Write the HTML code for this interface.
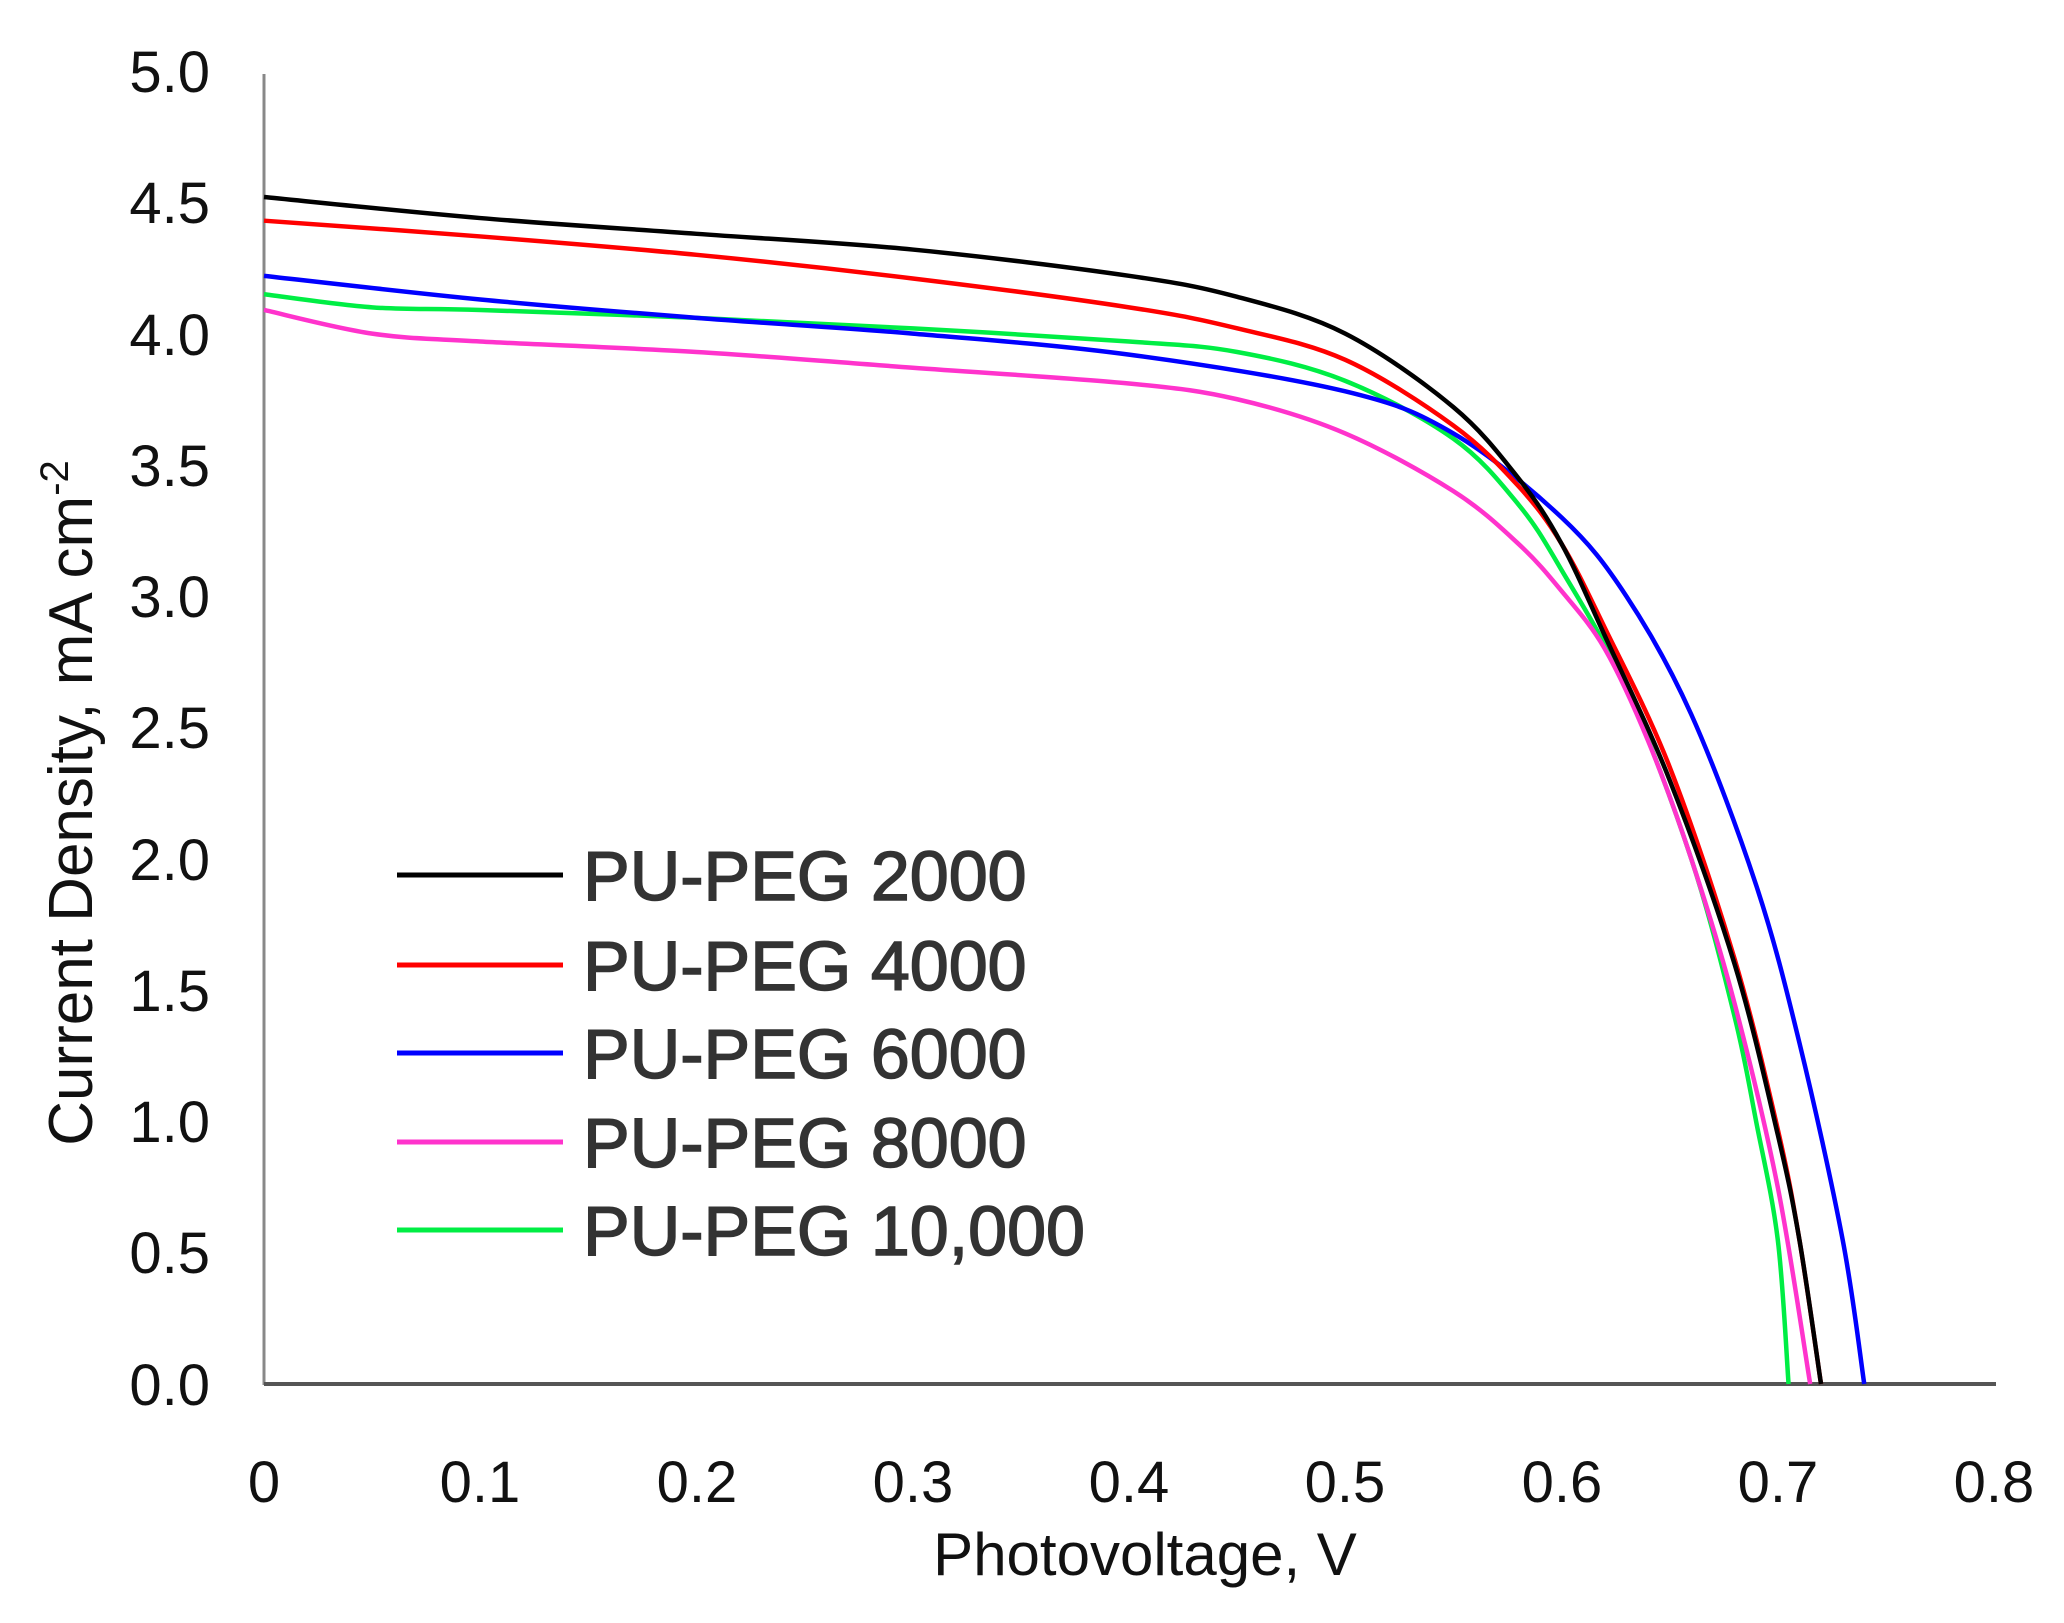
<!DOCTYPE html>
<html><head><meta charset="utf-8"><style>
html,body{margin:0;padding:0;background:#fff;}
svg{display:block;}
text{font-family:"Liberation Sans",sans-serif;}
</style></head><body>
<svg id="s" width="2064" height="1623" viewBox="0 0 2064 1623" xmlns="http://www.w3.org/2000/svg">
<rect width="2064" height="1623" fill="#fff"/>
<line x1="264" y1="74" x2="264" y2="1385" stroke="#888" stroke-width="3"/>
<line x1="264" y1="1384" x2="1996" y2="1384" stroke="#555" stroke-width="4"/>
<g font-size="58" fill="#111" text-anchor="end">
<text x="210" y="92">5.0</text><text x="210" y="223">4.5</text><text x="210" y="355">4.0</text>
<text x="210" y="486">3.5</text><text x="210" y="617">3.0</text><text x="210" y="748">2.5</text>
<text x="210" y="880">2.0</text><text x="210" y="1011">1.5</text><text x="210" y="1142">1.0</text>
<text x="210" y="1273">0.5</text><text x="210" y="1405">0.0</text>
</g>
<g font-size="58" fill="#111" text-anchor="middle">
<text x="264" y="1502">0</text><text x="480" y="1502">0.1</text><text x="697" y="1502">0.2</text>
<text x="913" y="1502">0.3</text><text x="1129" y="1502">0.4</text><text x="1345" y="1502">0.5</text>
<text x="1562" y="1502">0.6</text><text x="1778" y="1502">0.7</text><text x="1994" y="1502">0.8</text>
</g>
<text x="1145" y="1575" font-size="60" text-anchor="middle" fill="#111">Photovoltage, V</text>
<text transform="translate(92,803) rotate(-90)" font-size="62" text-anchor="middle" fill="#111">Current Density, mA cm<tspan dy="-24" font-size="40">-2</tspan></text>
<g id="curves" fill="none" stroke-width="4.5" stroke-linejoin="round"></g>
<g stroke-width="5">
<line x1="397" y1="875" x2="563" y2="875" stroke="#000"/>
<line x1="397" y1="965" x2="563" y2="965" stroke="#f00"/>
<line x1="397" y1="1053" x2="563" y2="1053" stroke="#00f"/>
<line x1="397" y1="1142" x2="563" y2="1142" stroke="#f3c"/>
<line x1="397" y1="1230" x2="563" y2="1230" stroke="#0e4"/>
</g>
<g font-size="70" fill="#333" stroke="#333" stroke-width="1.5">
<text x="583" y="900">PU-PEG 2000</text>
<text x="583" y="990">PU-PEG 4000</text>
<text x="583" y="1078">PU-PEG 6000</text>
<text x="583" y="1167">PU-PEG 8000</text>
<text x="583" y="1255">PU-PEG 10,000</text>
</g>
</svg>
<script>
var X=v=>264+v*2162.5, Y=j=>1384-j*262.6;
var data=[
["#0e4",[[0,4.15],[0.05,4.1],[0.1,4.09],[0.2,4.06],[0.3,4.02],[0.4,3.97],[0.45,3.93],[0.5,3.82],[0.55,3.6],[0.58,3.35],[0.6,3.1],[0.63,2.65],[0.66,2.0],[0.68,1.4],[0.69,1.0],[0.7,0.55],[0.705,0]]],
["#f3c",[[0,4.09],[0.05,4.0],[0.1,3.97],[0.2,3.93],[0.3,3.87],[0.4,3.81],[0.45,3.75],[0.5,3.62],[0.55,3.4],[0.58,3.2],[0.6,3.02],[0.62,2.8],[0.64,2.45],[0.66,2.0],[0.68,1.45],[0.7,0.75],[0.715,0]]],
["#00f",[[0,4.22],[0.1,4.13],[0.2,4.06],[0.3,4.0],[0.4,3.92],[0.5,3.78],[0.55,3.62],[0.6,3.3],[0.63,3.0],[0.66,2.55],[0.69,1.9],[0.71,1.3],[0.73,0.55],[0.74,0]]],
["#f00",[[0,4.43],[0.1,4.37],[0.2,4.3],[0.3,4.21],[0.4,4.1],[0.45,4.02],[0.5,3.9],[0.55,3.65],[0.58,3.42],[0.6,3.2],[0.62,2.88],[0.65,2.35],[0.68,1.62],[0.7,0.97],[0.71,0.55],[0.72,0]]],
["#000",[[0,4.52],[0.1,4.44],[0.2,4.38],[0.3,4.32],[0.4,4.22],[0.45,4.14],[0.5,4.0],[0.55,3.72],[0.58,3.45],[0.6,3.2],[0.62,2.85],[0.65,2.3],[0.68,1.6],[0.7,0.95],[0.71,0.55],[0.72,0]]]
];
var g=document.getElementById("curves");
data.forEach(function(d){
 var p=d[1].map(a=>[X(a[0]),Y(a[1])]);
 var s="M"+p[0][0]+","+p[0][1];
 for(var i=0;i<p.length-1;i++){
  var p0=p[i-1]||p[i],p1=p[i],p2=p[i+1],p3=p[i+2]||p2;
  var c1=[p1[0]+(p2[0]-p0[0])/6,p1[1]+(p2[1]-p0[1])/6];
  var c2=[p2[0]-(p3[0]-p1[0])/6,p2[1]-(p3[1]-p1[1])/6];
  s+=" C"+c1+" "+c2+" "+p2;
 }
 var e=document.createElementNS("http://www.w3.org/2000/svg","path");
 e.setAttribute("d",s);e.setAttribute("stroke",d[0]);g.appendChild(e);
});
</script>
</body></html>
